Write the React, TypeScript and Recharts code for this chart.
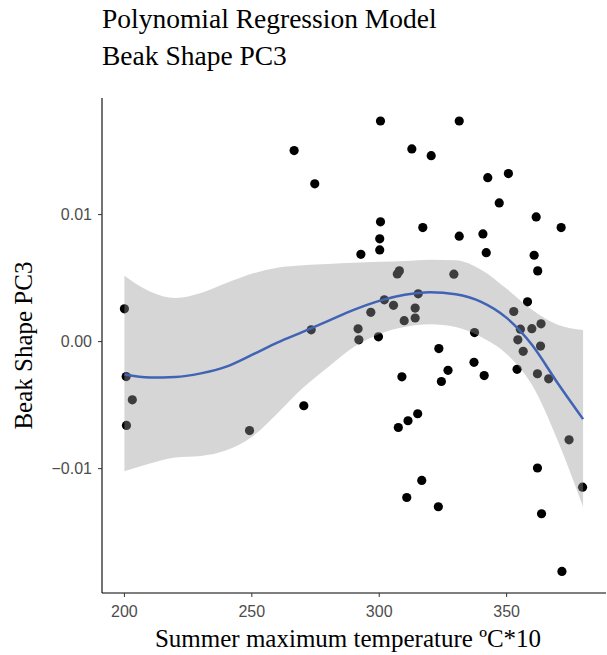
import React from 'react'
import { ComposedChart, Scatter, Area, Line, XAxis, YAxis } from 'recharts'

// observed birds: summer max temperature (ºC*10) and beak shape PC3
const tempX = [
  200.0, 200.7, 203.1, 200.8, 249.1, 270.4, 273.3, 266.6, 274.7, 291.7,
  292.0, 292.8, 299.7, 300.2, 300.2, 300.5, 300.5, 302.0, 296.7, 305.6,
  307.1, 307.9, 308.9, 309.8, 312.8, 314.1, 314.1, 315.3, 317.1, 320.4,
  307.5, 311.3, 315.1, 316.7, 310.8, 323.2, 323.4, 324.4, 327.0, 329.3,
  331.4, 331.4, 337.4, 337.2, 340.7, 342.0, 341.2, 342.6, 347.1, 350.7,
  352.8, 354.1, 354.4, 355.4, 356.5, 358.2, 359.9, 360.8, 361.6, 362.2,
  362.1, 362.1, 363.3, 363.5, 363.7, 366.5, 371.4, 371.7, 374.5, 379.8,
]
const pc3Y = [
  0.00258, -0.00275, -0.00458, -0.0066, -0.007, -0.00505, 0.00093, 0.01504, 0.01242, 0.00101,
  0.00014, 0.00687, 0.00038, 0.00722, 0.00809, 0.00943, 0.01737, 0.00329, 0.00231, 0.00286,
  0.00533, 0.00557, -0.00277, 0.00165, 0.01517, 0.00264, 0.00186, 0.00376, 0.00898, 0.01464,
  -0.00676, -0.00623, -0.00568, -0.01093, -0.01227, -0.013, -0.00055, -0.00314, -0.00226, 0.00531,
  0.01737, 0.0083, 0.00071, -0.00163, 0.00848, 0.007, -0.00267, 0.01291, 0.01092, 0.01323,
  0.00237, -0.00218, 0.00014, 0.00098, -0.00076, 0.00313, 0.00102, 0.0068, 0.00982, 0.00557,
  -0.00253, -0.00995, -0.00035, 0.0014, -0.01355, -0.00293, 0.00898, -0.01809, -0.00773, -0.01146,
]

// fitted polynomial curve and its confidence band
const gridX = [200, 210, 220, 230, 240, 250, 260, 270, 280, 290, 300, 310, 320, 330, 340, 350, 360, 370, 380]
const fitY = [
  -0.00259, -0.00283, -0.00279, -0.0025, -0.00197, -0.00105, -0.00007, 0.00077, 0.00163, 0.0025,
  0.00321, 0.00369, 0.00389, 0.00373, 0.00313, 0.00187, -0.00026, -0.00326, -0.0061,
]
const hiY = [
  0.00519, 0.00395, 0.00343, 0.00382, 0.00461, 0.00534, 0.00582, 0.00601, 0.00611, 0.00621,
  0.00629, 0.00635, 0.00645, 0.00641, 0.00566, 0.00416, 0.0025, 0.00132, 0.00092,
]
const loY = [
  -0.0102, -0.0096, -0.00912, -0.009, -0.00855, -0.0075, -0.00565, -0.00365, -0.002, -0.00042,
  0.00061, 0.00116, 0.00136, 0.00116, 0.00037, -0.00097, -0.00342, -0.00776, -0.013,
]

const xTicks = [200, 250, 300, 350]
const yTicks = [-0.01, 0, 0.01]
const yTickLabels = ['\u22120.01', '0.00', '0.01']

const points = tempX.map((x, i) => ({ x, y: pc3Y[i] }))
const smooth = gridX.map((x, i) => ({ x, fit: fitY[i], band: [loY[i], hiY[i]] }))

const serif = '"Liberation Serif", "Times New Roman", serif'
const sans = '"Liberation Sans", Arial, sans-serif'

const Dot = (props: any) => <circle cx={props.cx} cy={props.cy} r={4.6} fill="#000" />

export default function App() {
  return (
    <div style={{ position: 'absolute', left: 0, top: 0, width: 607, height: 655, background: '#fff' }}>
      <ComposedChart width={607} height={655} margin={{ top: 98, right: 1, bottom: 32, left: 42 }}>
        <XAxis
          type="number"
          dataKey="x"
          domain={[191.2, 389]}
          allowDataOverflow
          ticks={xTicks}
          tickSize={4}
          tickMargin={9}
          height={30}
          axisLine={{ stroke: '#000', strokeWidth: 1.1 }}
          tickLine={{ stroke: '#333' }}
          tick={{ fill: '#4d4d4d', fontSize: 16, fontFamily: sans }}
        />
        <YAxis
          type="number"
          domain={[-0.01979, 0.01918]}
          allowDataOverflow
          ticks={yTicks}
          tickFormatter={(v: number) => yTickLabels[yTicks.indexOf(v)] ?? String(v)}
          tickSize={4}
          tickMargin={6}
          width={60}
          axisLine={{ stroke: '#000', strokeWidth: 1.1 }}
          tickLine={{ stroke: '#333' }}
          tick={{ fill: '#4d4d4d', fontSize: 16, fontFamily: sans }}
        />
        <Scatter data={points} dataKey="y" shape={Dot} zIndex={100} isAnimationActive={false} />
        {/* ribbon sits over the points, like ggplot's geom_smooth */}
        <Area
          data={smooth}
          dataKey="band"
          type="monotone"
          stroke="none"
          fill="#999999"
          fillOpacity={0.4}
          zIndex={700}
          isAnimationActive={false}
        />
        <Line
          data={smooth}
          dataKey="fit"
          type="monotone"
          stroke="#4163b5"
          strokeWidth={2.5}
          dot={false}
          zIndex={800}
          isAnimationActive={false}
        />
      </ComposedChart>
      <svg width={607} height={655} style={{ position: 'absolute', left: 0, top: 0, pointerEvents: 'none' }}>
        <text x={102} y={28.3} fontFamily={serif} fontSize={27.5} fill="#000">Polynomial Regression Model</text>
        <text x={102} y={65} fontFamily={serif} fontSize={27.5} fill="#000">Beak Shape PC3</text>
        <text x={348} y={647} fontFamily={serif} fontSize={25} fill="#000" textAnchor="middle">
          Summer maximum temperature ºC*10
        </text>
        <text
          x={32}
          y={345.6}
          fontFamily={serif}
          fontSize={25}
          fill="#000"
          textAnchor="middle"
          transform="rotate(-90 32 345.6)"
        >
          Beak Shape PC3
        </text>
      </svg>
    </div>
  )
}
